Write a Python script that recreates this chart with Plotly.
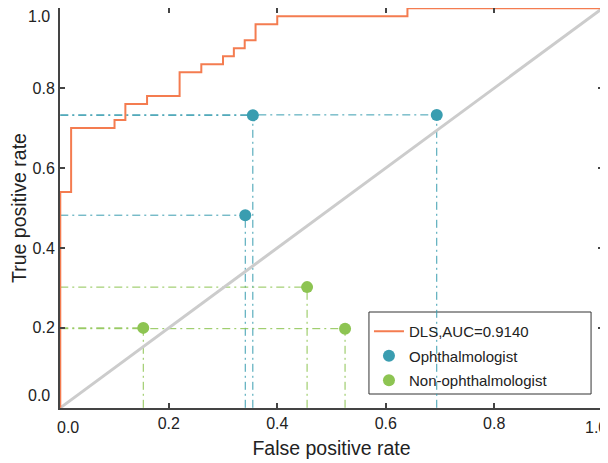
import plotly.graph_objects as go

# ROC curve of the DLS (step points)
roc_fpr = [0.0, 0.0, 0.02, 0.02, 0.10, 0.10, 0.12, 0.12, 0.16, 0.16, 0.22, 0.22, 0.26, 0.26,
           0.30, 0.30, 0.32, 0.32, 0.34, 0.34, 0.36, 0.36, 0.40, 0.40, 0.64, 0.64, 1.0]
roc_tpr = [0.0, 0.54, 0.54, 0.70, 0.70, 0.72, 0.72, 0.76, 0.76, 0.78, 0.78, 0.84, 0.84, 0.86,
           0.86, 0.88, 0.88, 0.90, 0.90, 0.92, 0.92, 0.96, 0.96, 0.98, 0.98, 1.0, 1.0]
roc_label = "DLS,AUC=0.9140"

oph_fpr = [0.355, 0.341, 0.694]
oph_tpr = [0.732, 0.482, 0.733]

non_fpr = [0.153, 0.455, 0.525]
non_tpr = [0.200, 0.302, 0.198]

x_ticks = [0.0, 0.2, 0.4, 0.6, 0.8, 1.0]
x_ticktext = ["", "0.2", "0.4", "0.6", "0.8", ""]
y_ticks = [0.0, 0.2, 0.4, 0.6, 0.8, 1.0]
y_ticktext = ["", "0.2", "0.4", "0.6", "0.8", ""]

C_ROC = "#F47C50"
C_OPH = "#3A9DB0"
C_NON = "#8DC452"
FONT = "Liberation Sans, Arial, Helvetica, sans-serif"
DASH = "8px,4px,2px,4px"
TXT = "#222222"

fig = go.Figure()

def guide_lines(xs, ys, color):
    for x, y in zip(xs, ys):
        fig.add_trace(go.Scatter(x=[0, x], y=[y, y], mode="lines",
                                 line=dict(color=color, width=1, dash=DASH),
                                 showlegend=False, hoverinfo="skip"))
        fig.add_trace(go.Scatter(x=[x, x], y=[0, y], mode="lines",
                                 line=dict(color=color, width=1, dash=DASH),
                                 showlegend=False, hoverinfo="skip"))

guide_lines(oph_fpr, oph_tpr, C_OPH)
guide_lines(non_fpr, non_tpr, C_NON)

# chance diagonal
fig.add_trace(go.Scatter(x=[0, 1], y=[0, 1], mode="lines",
                         line=dict(color="#CCCCCC", width=3),
                         showlegend=False, hoverinfo="skip"))

fig.add_trace(go.Scatter(x=roc_fpr, y=roc_tpr, mode="lines", name=roc_label,
                         line=dict(color=C_ROC, width=2), legendgroup="a"))
fig.add_trace(go.Scatter(x=oph_fpr, y=oph_tpr, mode="markers", name="Ophthalmologist",
                         marker=dict(color=C_OPH, size=12), legendgroup="b"))
fig.add_trace(go.Scatter(x=non_fpr, y=non_tpr, mode="markers", name="Non-ophthalmologist",
                         marker=dict(color=C_NON, size=12), legendgroup="c"))

axis_common = dict(
    range=[-0.0005, 1.0005], showgrid=False, zeroline=False, automargin=False,
    showline=True, linecolor="#444444", linewidth=2, mirror="ticks",
    ticks="inside", ticklen=5, tickcolor="#444444", tickwidth=1.5,
    tickfont=dict(family=FONT, size=16, color=TXT),
    ticklabeloverflow="allow",
)

fig.update_xaxes(**axis_common, tickvals=x_ticks, ticktext=x_ticktext,
                 title=dict(text="False positive rate", font=dict(family=FONT, size=19.5, color=TXT),
                            standoff=10))
fig.update_yaxes(**axis_common, tickvals=y_ticks, ticktext=y_ticktext,
                 title=dict(text="True positive rate", font=dict(family=FONT, size=19.5, color=TXT),
                            standoff=16))

# end tick labels, nudged inward as in the original figure
end_labels = [
    dict(x=x_ticks[0], y=0, xref="x", yref="paper", text="0.0", xshift=8, yshift=-19),
    dict(x=x_ticks[-1], y=0, xref="x", yref="paper", text="1.0", xshift=-7, yshift=-19),
    dict(x=0, y=y_ticks[0], xref="paper", yref="y", text="0.0", xshift=-21, yshift=12),
    dict(x=0, y=y_ticks[-1], xref="paper", yref="y", text="1.0", xshift=-21, yshift=-8),
]
for a in end_labels:
    fig.add_annotation(**a, showarrow=False, font=dict(family=FONT, size=16, color=TXT),
                       xanchor="center", yanchor="middle")

# legend box drawn as a shape
fig.add_shape(type="rect", xref="paper", yref="paper",
              x0=0.569, x1=0.978, y0=0.035, y1=0.24,
              line=dict(color="#333333", width=1), fillcolor="white", layer="below")

fig.update_layout(
    width=600, height=455,
    margin=dict(l=52, r=5, t=0, b=55, autoexpand=False),
    paper_bgcolor="white", plot_bgcolor="white",
    font=dict(family=FONT, color=TXT),
    legend=dict(x=0.569, y=0.2325, xanchor="left", yanchor="top",
                bgcolor="rgba(0,0,0,0)", borderwidth=0,
                font=dict(family=FONT, size=15, color=TXT),
                tracegroupgap=2),
    showlegend=True,
)

fig.write_html("out.html")
